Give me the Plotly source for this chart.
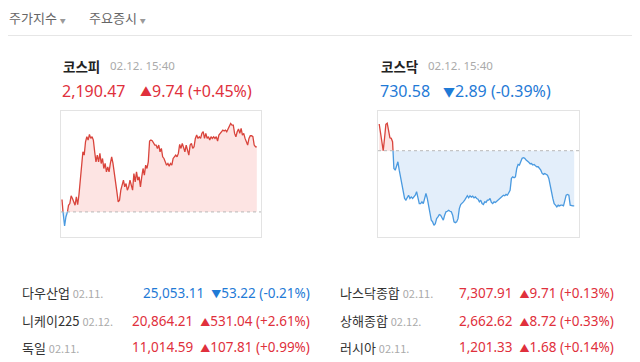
import plotly.graph_objects as go

W, H = 640, 362
LATIN = "Noto Sans, Noto Sans CJK KR, sans-serif"
KFONT = "Noto Sans CJK KR, Noto Sans, sans-serif"
RED = "#e0303c"
BLUE = "#1f7ad6"
RED_LINE = "#d9443c"
BLUE_LINE = "#4a9ae0"
RED_FILL = "#fde4e3"
BLUE_FILL = "#e3eefa"

# ---------------- data ----------------
tabs = ["주가지수", "주요증시"]

kospi_name = "코스피"
kospi_time = "02.12. 15:40"
kospi_close = "2,190.47"
kospi_change = "9.74"
kospi_pct = "(+0.45%)"
kospi_prev = 2180.73
kospi_vals = [
    2182.58, 2180.23, 2178.63, 2179.98, 2180.48, 2181.73, 2181.98, 2183.13, 2182.73, 2182.23,
    2181.73, 2182.98, 2181.83, 2183.33, 2185.23, 2187.48, 2189.73, 2189.23, 2191.23, 2191.98,
    2191.48, 2192.33, 2191.73, 2191.98, 2191.48, 2189.73, 2188.23, 2189.23, 2188.23, 2189.48,
    2187.98, 2188.73, 2187.23, 2187.98, 2186.73, 2187.48, 2186.73, 2187.98, 2188.98, 2187.98,
    2186.23, 2185.48, 2183.73, 2182.23, 2182.48, 2183.98, 2184.73, 2185.48, 2184.48, 2184.98,
    2183.98, 2184.48, 2185.48, 2184.48, 2183.98, 2186.48, 2185.23, 2186.73, 2185.48, 2185.98,
    2184.48, 2185.98, 2187.23, 2186.23, 2187.73, 2187.23, 2188.23, 2191.33, 2191.48, 2191.38,
    2190.98, 2190.73, 2190.73, 2190.23, 2190.73, 2189.73, 2190.23, 2188.98, 2188.73, 2188.23,
    2187.73, 2187.98, 2187.58, 2187.98, 2187.73, 2188.73, 2188.98, 2189.23, 2188.98, 2189.48,
    2190.83, 2190.23, 2190.98, 2190.48, 2189.73, 2190.73, 2189.98, 2189.23, 2190.73, 2190.98,
    2190.23, 2190.48, 2191.73, 2192.23, 2191.73, 2191.98, 2191.73, 2192.48, 2192.73, 2191.73,
    2192.48, 2191.73, 2191.98, 2191.48, 2191.98, 2191.73, 2191.98, 2191.73, 2191.98, 2191.33,
    2192.23, 2192.48, 2192.73, 2192.98, 2192.83, 2192.98, 2192.73, 2193.23, 2193.48, 2193.98,
    2193.73, 2193.73, 2192.48, 2191.98, 2192.73, 2193.13, 2192.48, 2193.23, 2192.23, 2192.48,
    2191.73, 2191.23, 2190.73, 2191.73, 2192.13, 2192.13, 2191.98, 2190.73, 2190.48, 2190.47,
]

kosdaq_name = "코스닥"
kosdaq_time = "02.12. 15:40"
kosdaq_close = "730.58"
kosdaq_change = "2.89"
kosdaq_pct = "(-0.39%)"
kosdaq_prev = 733.47
kosdaq_vals = [
    734.87, 734.47, 734.03, 733.47, 734.12, 734.85, 734.91, 734.56, 734.15, 734.12,
    733.94, 732.54, 732.45, 732.63, 732.89, 732.45, 732.10, 731.67, 731.32, 730.97,
    730.88, 731.05, 731.14, 730.97, 731.05, 730.97, 731.05, 731.14, 731.32, 731.05,
    730.70, 730.70, 730.79, 730.70, 730.97, 731.23, 730.97, 730.62, 730.27, 729.83,
    729.74, 729.56, 729.65, 729.91, 730.00, 730.12, 730.09, 729.91, 729.83, 730.09,
    730.27, 730.30, 730.35, 730.30, 730.27, 730.09, 729.74, 729.70, 729.74, 729.91,
    730.44, 730.65, 730.70, 730.79, 730.88, 731.00, 731.11, 731.00, 731.11, 731.04,
    731.09, 731.00, 731.05, 730.97, 730.93, 730.79, 730.88, 730.70, 730.65, 730.79,
    730.76, 730.88, 730.88, 730.97, 730.76, 730.70, 730.79, 730.76, 730.83, 730.88,
    730.97, 731.00, 731.11, 731.14, 731.11, 731.18, 731.14, 731.28, 731.40, 732.02,
    732.10, 732.05, 732.10, 732.54, 732.75, 732.72, 732.89, 733.07, 733.10, 733.07,
    732.98, 732.89, 732.86, 732.79, 732.80, 732.72, 732.75, 732.68, 732.63, 732.63,
    732.54, 732.45, 732.28, 732.23, 732.28, 732.23, 732.19, 732.02, 731.75, 731.32,
    730.97, 730.70, 730.62, 730.53, 730.62, 730.58, 730.62, 730.62, 730.58, 730.88,
    731.14, 731.18, 731.14, 730.62, 730.58, 730.58, 730.58,
]

world_names = ["다우산업", "니케이225", "독일", "나스닥종합", "상해종합", "러시아"]
world_dates = ["02.11.", "02.12.", "02.11.", "02.11.", "02.12.", "02.11."]
world_values = ["25,053.11", "20,864.21", "11,014.59", "7,307.91", "2,662.62", "1,201.33"]
world_changes = ["53.22", "531.04", "107.81", "9.71", "8.72", "1.68"]
world_pcts = ["(-0.21%)", "(+2.61%)", "(+0.99%)", "(+0.13%)", "(+0.33%)", "(+0.14%)"]
world_up = [False, True, True, True, True, True]


# ---------------- helpers ----------------
def px(x):
    return x / W


def py(y):
    return 1 - y / H


def split_at(vals, base):
    xs, ys = [], []
    for i, v in enumerate(vals):
        if i > 0:
            p = vals[i - 1]
            if (p - base) * (v - base) < 0:
                t = (base - p) / (v - p)
                xs.append(i - 1 + t)
                ys.append(base)
        xs.append(i)
        ys.append(v)
    return xs, ys


fig = go.Figure()


def add_chart(vals, base, xa, ya):
    xs, ys = split_at(vals, base)
    up = [max(v, base) for v in ys]
    dn = [min(v, base) for v in ys]
    back = xs[::-1]
    fig.add_trace(go.Scatter(x=xs + back, y=up + [base] * len(xs), fill="toself",
                             fillcolor=RED_FILL, mode="lines", line=dict(width=0),
                             xaxis=xa, yaxis=ya, hoverinfo="skip", showlegend=False))
    fig.add_trace(go.Scatter(x=xs + back, y=dn + [base] * len(xs), fill="toself",
                             fillcolor=BLUE_FILL, mode="lines", line=dict(width=0),
                             xaxis=xa, yaxis=ya, hoverinfo="skip", showlegend=False))
    fig.add_trace(go.Scatter(x=xs, y=[v if v >= base else None for v in ys], mode="lines",
                             line=dict(color=RED_LINE, width=1.3), xaxis=xa, yaxis=ya,
                             hoverinfo="skip", showlegend=False))
    fig.add_trace(go.Scatter(x=xs, y=[v if v <= base else None for v in ys], mode="lines",
                             line=dict(color=BLUE_LINE, width=1.3), xaxis=xa, yaxis=ya,
                             hoverinfo="skip", showlegend=False))


add_chart(kospi_vals, kospi_prev, "x", "y")
add_chart(kosdaq_vals, kosdaq_prev, "x2", "y2")

axis_style = dict(showgrid=False, zeroline=False, showticklabels=False, ticks="",
                  showline=True, mirror=True, linecolor="#e3e3e3", linewidth=1, fixedrange=True)

fig.update_layout(
    width=W, height=H, margin=dict(l=0, r=0, t=0, b=0),
    paper_bgcolor="white", plot_bgcolor="white", showlegend=False,
    xaxis=dict(domain=[px(61), px(261)], range=[-0.75, len(kospi_vals) - 1 + 3.2], **axis_style),
    yaxis=dict(domain=[py(237), py(111)], range=[2176.98, 2195.83], **axis_style),
    xaxis2=dict(domain=[px(378), px(579)], range=[-0.9, len(kosdaq_vals) - 1 + 3.6],
                anchor="y2", **axis_style),
    yaxis2=dict(domain=[py(237), py(111)], range=[728.95, 735.55], anchor="x2", **axis_style),
)

# baselines (previous close)
for xr, yr, base in [("x domain", "y", kospi_prev), ("x2 domain", "y2", kosdaq_prev)]:
    fig.add_shape(type="line", xref=xr, yref=yr, x0=0, x1=1, y0=base, y1=base,
                  line=dict(color="#b8b8b8", width=1, dash="3px,3px"))

# header divider
fig.add_shape(type="line", xref="paper", yref="paper", x0=px(8), x1=px(632),
              y0=py(35.5), y1=py(35.5), line=dict(color="#e6e6e6", width=1))

ann = []


def text(x, y, s, size, color, family=KFONT, anchor="left"):
    ann.append(dict(x=px(x), y=py(y), xref="paper", yref="paper", text=s, showarrow=False,
                    xanchor=anchor, yanchor="middle", font=dict(size=size, color=color, family=family)))


# tabs
tab_x = [8, 88]
for tx, t in zip(tab_x, tabs):
    text(tx - 1, 17, t + "\u00a0<span style='font-size:6px;color:#999999'>▼</span>", 13, "#666666")

headers = [
    (62, 109, 61, 139, kospi_name, kospi_time, kospi_close, kospi_change, kospi_pct, True),
    (380, 427, 378.5, 442, kosdaq_name, kosdaq_time, kosdaq_close, kosdaq_change, kosdaq_pct, False),
]
for nx, tx, vx, cx, name, tm, close, chg, pct, up in headers:
    col = RED if up else BLUE
    tri = "▲" if up else "▼"
    text(nx - 1, 65.5, "<b>" + name + "</b>", 13.5, "#222222")
    text(tx - 1, 66, tm, 11.5, "#aaaaaa", family=LATIN)
    text(vx - 1, 91.5, close, 16, col, family=LATIN)
    text(cx - 1, 91.5, "<span style='font-size:12px'>" + tri + "</span>" + chg + " " + pct,
         16, col, family=LATIN)

# world indices table
rows_y = [292.7, 320.7, 347.3]
for i in range(6):
    col_i = i // 3
    r = i % 3
    nx = 21 if col_i == 0 else 339
    rx = 311 if col_i == 0 else 614.5
    y = rows_y[r]
    text(nx - 1, y, world_names[i] + "\u00a0<span style='font-size:11px;color:#aaaaaa'>"
         + world_dates[i] + "</span>", 13, "#333333")
    col = RED if world_up[i] else BLUE
    tri = "▲" if world_up[i] else "▼"
    text(rx + 1, y, world_values[i] + "\u00a0\u00a0<span style='font-size:10px'>" + tri
         + "</span>" + world_changes[i] + " " + world_pcts[i], 13.5, col, family=LATIN, anchor="right")

fig.update_layout(annotations=ann)
fig.write_html("out.html")
